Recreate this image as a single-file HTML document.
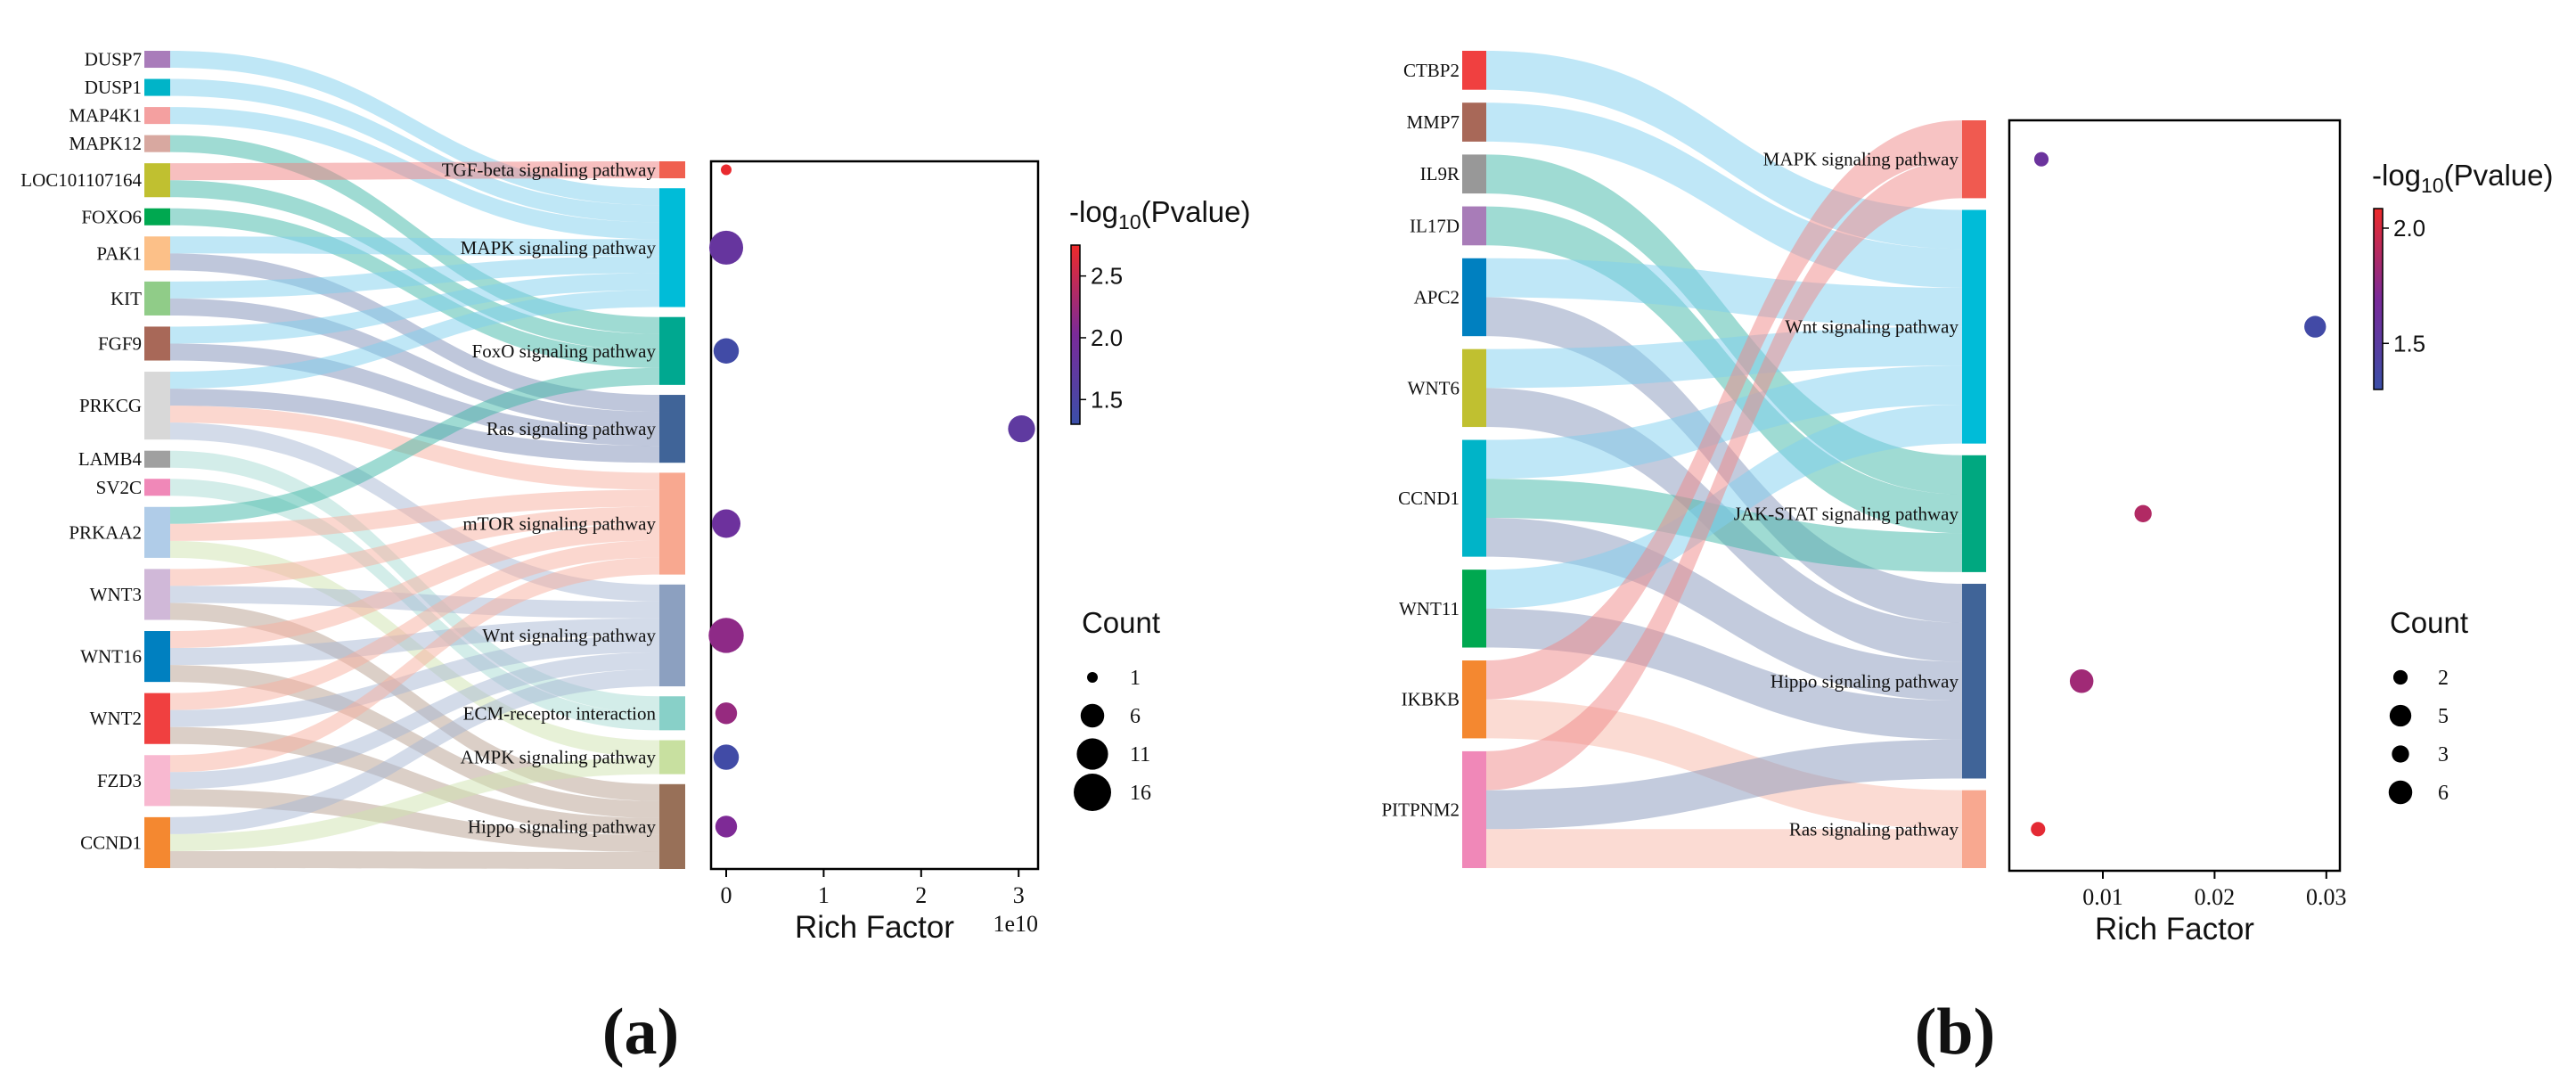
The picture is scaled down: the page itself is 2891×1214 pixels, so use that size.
<!DOCTYPE html>
<html><head><meta charset="utf-8">
<style>
html,body{margin:0;padding:0;background:#fff;}
svg{display:block;}
text{font-family:"Liberation Serif",serif;fill:#111;}
.sans{font-family:"Liberation Sans Narrow","Liberation Sans",sans-serif;}
</style></head>
<body>
<svg id="chart" width="2891" height="1214" viewBox="0 0 2891 1214" xmlns="http://www.w3.org/2000/svg">
<g id="pa"></g>
<g id="pb"></g>
<text x="719" y="1182" font-size="74" font-weight="bold" text-anchor="middle">(a)</text>
<text x="2194" y="1182" font-size="74" font-weight="bold" text-anchor="middle">(b)</text>
</svg>
<script>
// ---------- Panel A data ----------
const aSources = ["DUSP7","DUSP1","MAP4K1","MAPK12","LOC101107164","FOXO6","PAK1","KIT","FGF9","PRKCG","LAMB4","SV2C","PRKAA2","WNT3","WNT16","WNT2","FZD3","CCND1"];
const aSourceColors = ["#a97cba","#00b4c8","#f4a0a0","#d8a8a0","#c0c030","#00a850","#fcc088","#90cc88","#a86858","#d8d8d8","#a0a0a0","#f088b8","#b0cce8","#d0b8d8","#0080c0","#f04040","#f8b8d0","#f48830"];
const aSourceTargets = [[1],[1],[1],[2],[0,2],[2],[1,3],[1,3],[1,3],[1,3,4,5],[6],[6],[2,4,7],[4,5,8],[4,5,8],[4,5,8],[4,5,8],[5,7,8]];
const aTargets = ["TGF-beta signaling pathway","MAPK signaling pathway","FoxO signaling pathway","Ras signaling pathway","mTOR signaling pathway","Wnt signaling pathway","ECM-receptor interaction","AMPK signaling pathway","Hippo signaling pathway"];
const aTargetColors = ["#f06050","#00bcd8","#00a890","#406498","#f8a890","#8ca0c0","#88d0c8","#c8e0a0","#987058"];
const aLinkColors = ["#f08080","#7fd0ee","#40b8a8","#8090b8","#f8b0a0","#a8b8d4","#a8dcd4","#d0e4b0","#b8a090"];
const aRich = [0.0, 0.0, 0.0, 3.03, 0.0, 0.0, 0.0, 0.0, 0.0];
const aCount = [1, 13, 7, 8, 9, 14, 5, 7, 5];
const aLogP = [2.72, 1.8, 1.38, 1.72, 1.88, 2.15, 2.2, 1.38, 2.05];
const aTicks = [0, 1, 2, 3];
const aCbTicks = [1.5, 2.0, 2.5];
const aLegendCounts = [1, 6, 11, 16];

// ---------- Panel B data ----------
const bSources = ["CTBP2","MMP7","IL9R","IL17D","APC2","WNT6","CCND1","WNT11","IKBKB","PITPNM2"];
const bSourceColors = ["#f04040","#a86858","#989898","#a87cb8","#0080c0","#c0c030","#00b4c8","#00a850","#f48830","#f088b8"];
const bSourceTargets = [[1],[1],[2],[2],[1,3],[1,3],[1,2,3],[1,3],[0,4],[0,3,4]];
const bTargets = ["MAPK signaling pathway","Wnt signaling pathway","JAK-STAT signaling pathway","Hippo signaling pathway","Ras signaling pathway"];
const bTargetColors = ["#f05a50","#00bcd8","#00a880","#406498","#f8a890"];
const bLinkColors = ["#f08888","#80d0f0","#40b8a8","#8898bc","#f8b8a8"];
const bRich = [0.0045, 0.029, 0.0136, 0.0081, 0.0042];
const bCount = [2, 5, 3, 6, 2];
const bLogP = [1.6, 1.35, 1.88, 1.82, 2.05];
const bTicks = [0.01, 0.02, 0.03];
const bCbTicks = [1.5, 2.0];
const bLegendCounts = [2, 5, 3, 6];

const NS = "http://www.w3.org/2000/svg";
function mk(parent, tag, attrs, txt){
  const e = document.createElementNS(NS, tag);
  for (const k in attrs) e.setAttribute(k, attrs[k]);
  if (txt !== undefined) e.textContent = txt;
  parent.appendChild(e);
  return e;
}
function hex2rgb(h){return [parseInt(h.slice(1,3),16),parseInt(h.slice(3,5),16),parseInt(h.slice(5,7),16)];}
const cStops = ["#3a4fa8","#7a2a9a","#ee2a2a"];
function cmap(t){
  t = Math.max(0, Math.min(1, t));
  let a, b, f;
  if (t < 0.5){a = hex2rgb(cStops[0]); b = hex2rgb(cStops[1]); f = t/0.5;}
  else {a = hex2rgb(cStops[1]); b = hex2rgb(cStops[2]); f = (t-0.5)/0.5;}
  return "rgb(" + a.map((v,i)=>Math.round(v+(b[i]-v)*f)).join(",") + ")";
}

function drawPanel(g, cfg){
  const sources = cfg.sources, targets = cfg.targets;
  const sUnits = cfg.st.map(l=>l.length);
  const tUnits = targets.map((_,j)=>cfg.st.reduce((s,l)=>s+(l.includes(j)?1:0),0));
  const totalUnits = sUnits.reduce((a,b)=>a+b,0);
  const u = (cfg.lBot - cfg.lTop - (sources.length-1)*cfg.gap) / totalUnits;
  const rGap = (cfg.rBot - cfg.rTop - totalUnits*u) / (targets.length-1);
  const sY = []; let y = cfg.lTop;
  sources.forEach((_,i)=>{sY.push(y); y += sUnits[i]*u + cfg.gap;});
  const tY = []; y = cfg.rTop;
  targets.forEach((_,j)=>{tY.push(y); y += tUnits[j]*u + rGap;});
  const tOff = targets.map(()=>0);
  const linkG = mk(g, "g", {});
  
  
  const x0 = cfg.lx + cfg.nw, x1 = cfg.rx, xm = (x0+x1)/2;
  const linkList = [];
  cfg.st.forEach((ts,i)=>{
    ts.slice().sort((a,b)=>a-b).forEach((t,k)=>{
      linkList.push({s:i,t:t,ys:sY[i]+k*u});
    });
  });
  linkList.forEach(l=>{ l.yt = tY[l.t] + tOff[l.t]*u; tOff[l.t]++; });
  linkList.forEach(l=>{
    const d = `M${x0},${l.ys} C${xm},${l.ys} ${xm},${l.yt} ${x1},${l.yt} L${x1},${l.yt+u} C${xm},${l.yt+u} ${xm},${l.ys+u} ${x0},${l.ys+u} Z`;
    const p = mk(linkG, "path", {d:d, fill:cfg.linkColors[l.t], "fill-opacity":0.5});
    
    
  });
  sources.forEach((s,i)=>{
    const r = mk(g, "rect", {x:cfg.lx, y:sY[i], width:cfg.nw, height:sUnits[i]*u, fill:cfg.sColors[i]});
    
    
    const t = mk(g, "text", {x:cfg.lx-3, y:sY[i]+sUnits[i]*u/2+7, "font-size":cfg.fs, "text-anchor":"end"}, s);
    
    
  });
  const centers = [];
  targets.forEach((s,j)=>{
    const h = tUnits[j]*u;
    centers.push(tY[j]+h/2);
    const r = mk(g, "rect", {x:cfg.rx, y:tY[j], width:cfg.nw, height:h, fill:cfg.tColors[j]});
    
    
    const t = mk(g, "text", {x:cfg.rx-4, y:tY[j]+h/2+7, "font-size":cfg.fs, "text-anchor":"end"}, s);
    
    
  });
  const bx = cfg.box;
  const box = mk(g, "rect", {x:bx.x, y:bx.y, width:bx.w, height:bx.h, fill:"none", stroke:"#000", "stroke-width":2.5});
  
  
  const xs = v => cfg.xOrigin + v*cfg.xScale;
  const rad = c => cfg.r0 + cfg.r1*(Math.sqrt(c)-1);
  const cnorm = v => (v - cfg.cMin)/(cfg.cMax - cfg.cMin);
  cfg.ticks.forEach(v=>{
    const X = xs(v);
    const tk = mk(g, "line", {x1:X, x2:X, y1:bx.y+bx.h, y2:bx.y+bx.h+9, stroke:"#000", "stroke-width":2});
    
    
    const tl = mk(g, "text", {x:X, y:bx.y+bx.h+38, "font-size":26, "text-anchor":"middle"}, String(v));
    
    
  });
  const xt = mk(g, "text", {x:bx.x+bx.w/2, y:bx.y+bx.h+77, "font-size":35, "text-anchor":"middle", class:"sans"}, "Rich Factor");
  
  
  if (cfg.expLabel){
    const ex = mk(g, "text", {x:bx.x+bx.w, y:bx.y+bx.h+70, "font-size":26, "text-anchor":"end"}, cfg.expLabel);
    
    
  }
  cfg.rich.forEach((v,j)=>{
    const c = mk(g, "circle", {cx:xs(v), cy:centers[j], r:rad(cfg.count[j]), fill:cmap(cnorm(cfg.logp[j]))});
    
    
  });
  const cb = cfg.cb;
  const gid = "grad" + cfg.id;
  const defs = mk(g, "defs", {});
  const lg = mk(defs, "linearGradient", {id:gid, x1:0, y1:1, x2:0, y2:0});
  for (let k=0;k<=10;k++) mk(lg, "stop", {offset:k/10, "stop-color":cmap(k/10)});
  const cbr = mk(g, "rect", {x:cb.x, y:cb.y, width:cb.w, height:cb.h, fill:`url(#${gid})`, stroke:"#000", "stroke-width":1.5});
  
  
  const ct = mk(g, "text", {x:cb.x-2, y:cb.y-26, "font-size":33, class:"sans"});
  
  
  mk(ct, "tspan", {}, "-log");
  mk(ct, "tspan", {"font-size":23, dy:8}, "10");
  mk(ct, "tspan", {dy:-8}, "(Pvalue)");
  cfg.cbTicks.forEach(v=>{
    const Y = cb.y + cb.h*(1 - cnorm(v));
    const tk = mk(g, "line", {x1:cb.x+cb.w, x2:cb.x+cb.w+7, y1:Y, y2:Y, stroke:"#000", "stroke-width":1.5});
    
    
    const tl = mk(g, "text", {x:cb.x+cb.w+12, y:Y+9, "font-size":26, class:"sans"}, v.toFixed(1));
    
    
  });
  const lgd = cfg.legend;
  const lt = mk(g, "text", {x:lgd.x+32, y:lgd.y, "font-size":33, "text-anchor":"middle", class:"sans"}, "Count");
  
  
  cfg.legendCounts.forEach((c,k)=>{
    const Y = lgd.y + 50 + k*43;
    const d = mk(g, "circle", {cx:lgd.x, cy:Y, r:rad(c), fill:"#000"});
    
    
    const t = mk(g, "text", {x:lgd.x+42, y:Y+8, "font-size":24}, String(c));
    
    
  });
}

drawPanel(document.getElementById("pa"), {
  id:"a", sources:aSources, sColors:aSourceColors, st:aSourceTargets,
  targets:aTargets, tColors:aTargetColors, linkColors:aLinkColors,
  lTop:57, lBot:974, rTop:181, rBot:975, gap:12.5, lx:162, rx:740, nw:29, fs:21,
  box:{x:798, y:181, w:367, h:794},
  xOrigin:815, xScale:109.4, ticks:aTicks, expLabel:"1e10",
  rich:aRich, count:aCount, logp:aLogP, r0:6, r1:5,
  cMin:1.3, cMax:2.75, cb:{x:1202, y:275, w:10, h:201}, cbTicks:aCbTicks,
  legend:{x:1226, y:710}, legendCounts:aLegendCounts
});
drawPanel(document.getElementById("pb"), {
  id:"b", sources:bSources, sColors:bSourceColors, st:bSourceTargets,
  targets:bTargets, tColors:bTargetColors, linkColors:bLinkColors,
  lTop:57, lBot:974, rTop:135, rBot:974, gap:14.5, lx:1641, rx:2202, nw:27, fs:21,
  box:{x:2255, y:135, w:371, h:842},
  xOrigin:2234.6, xScale:12540, ticks:bTicks, expLabel:"",
  rich:bRich, count:bCount, logp:bLogP, r0:6, r1:5,
  cMin:1.3, cMax:2.085, cb:{x:2664, y:234, w:10, h:203}, cbTicks:bCbTicks,
  legend:{x:2694, y:710}, legendCounts:bLegendCounts
});
</script>
</body></html>
